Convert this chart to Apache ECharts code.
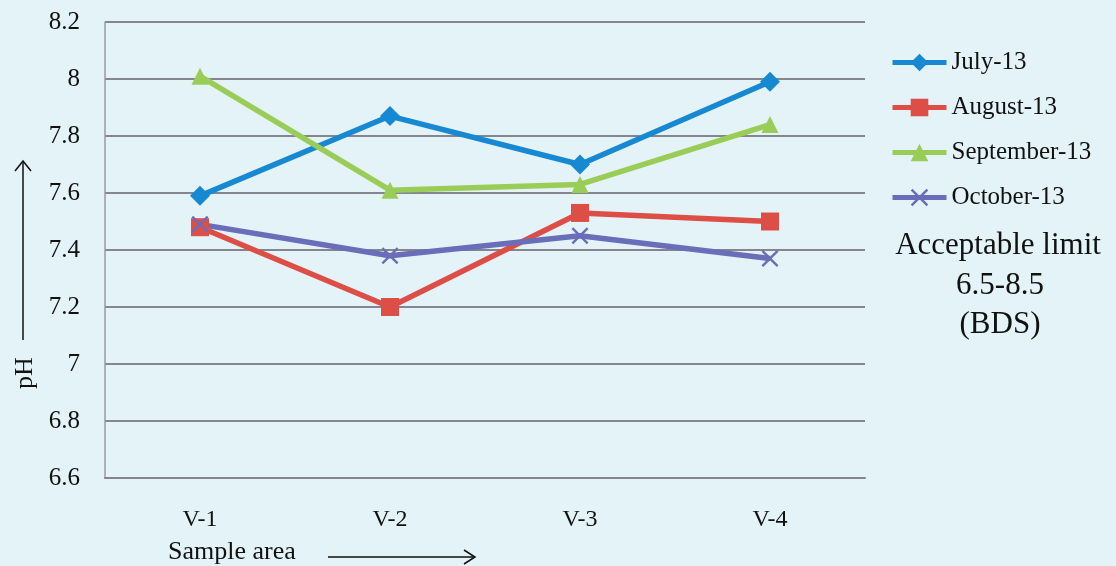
<!DOCTYPE html>
<html>
<head>
<meta charset="utf-8">
<title>pH by sample area</title>
<script src="https://cdn.jsdelivr.net/npm/echarts@6/dist/echarts.min.js"></script>
<style>
  html, body { margin: 0; padding: 0; background: #e3f3f8; }
  #chart { width: 1116px; height: 566px; }
</style>
</head>
<body>
<div id="chart"></div>
<script>
// Sampling sites along the x axis
const categories = ['V-1', 'V-2', 'V-3', 'V-4'];

// Monthly pH readings per site
const july13 = [7.59, 7.87, 7.70, 7.99];
const august13 = [7.48, 7.20, 7.53, 7.50];
const september13 = [8.01, 7.61, 7.63, 7.84];
const october13 = [7.49, 7.38, 7.45, 7.37];

const seriesNames = ['July-13', 'August-13', 'September-13', 'October-13'];

// pH axis range and step
const yMin = 6.6;
const yMax = 8.2;
const yStep = 0.2;

const serif = '"Liberation Serif", "Times New Roman", serif';
const crossPath = 'path://M1,0 L5,4 L9,0 L10,1 L6,5 L10,9 L9,10 L5,6 L1,10 L0,9 L4,5 L0,1 Z';
const colors = ['#1689d2', '#dc4e46', '#9acd58', '#6a6db8'];
const symbols = ['diamond', 'rect', 'triangle', crossPath];
const symbolSizes = [20, 18, 17, 17];

function lineSeries(i, data) {
  return {
    name: seriesNames[i],
    type: 'line',
    data: data,
    symbol: symbols[i],
    symbolSize: symbolSizes[i],
    lineStyle: { color: colors[i], width: 5.5 },
    itemStyle: { color: colors[i] },
    emphasis: { disabled: true },
    animation: false
  };
}

const chart = echarts.init(document.getElementById('chart'), null, { renderer: 'canvas' });

chart.setOption({
  backgroundColor: '#e3f3f8',
  animation: false,
  grid: { left: 105, right: 251, top: 22, bottom: 88 },
  legend: {
    orient: 'vertical',
    left: 890,
    top: 50,
    padding: 0,
    itemWidth: 54,
    itemHeight: 22,
    itemGap: 20,
    textStyle: { fontFamily: serif, fontSize: 25, color: '#111', lineHeight: 25 },
    lineStyle: { width: 5 },
    data: seriesNames.map(function (n, i) {
      return {
        name: n,
        itemStyle: { color: colors[i] },
        lineStyle: { color: colors[i], width: 5 }
      };
    })
  },
  xAxis: {
    type: 'category',
    data: categories,
    boundaryGap: true,
    axisLine: { show: true, lineStyle: { color: '#85858f', width: 2 } },
    axisTick: { show: false },
    axisLabel: { margin: 30, fontFamily: serif, fontSize: 24, color: '#111' },
    splitLine: { show: false }
  },
  yAxis: {
    type: 'value',
    min: yMin,
    max: yMax,
    interval: yStep,
    axisLine: { show: true, lineStyle: { color: '#9a9aa2', width: 1.5 } },
    axisTick: { show: false },
    axisLabel: { margin: 25, fontFamily: serif, fontSize: 25, color: '#111' },
    splitLine: { show: true, lineStyle: { color: '#85858f', width: 2 } }
  },
  series: [
    lineSeries(0, july13),
    lineSeries(1, august13),
    lineSeries(2, september13),
    lineSeries(3, october13)
  ],
  graphic: [
    // y-axis title with upward arrow
    {
      type: 'text',
      x: 25, y: 373,
      rotation: Math.PI / 2,
      style: {
        text: 'pH', font: '26px ' + serif, fill: '#111',
        align: 'center', verticalAlign: 'middle'
      }
    },
    {
      type: 'line',
      shape: { x1: 23, y1: 340, x2: 23, y2: 161 },
      style: { stroke: '#111', lineWidth: 1.5 }
    },
    {
      type: 'polyline',
      shape: { points: [[15, 171], [23, 161], [31, 171]] },
      style: { stroke: '#111', lineWidth: 1.5, fill: null }
    },
    // x-axis title with rightward arrow
    {
      type: 'text',
      left: 168, top: 539,
      style: { text: 'Sample area', font: '26px ' + serif, fill: '#111' }
    },
    {
      type: 'line',
      shape: { x1: 328, y1: 557, x2: 475, y2: 557 },
      style: { stroke: '#111', lineWidth: 1.5 }
    },
    {
      type: 'polyline',
      shape: { points: [[464, 550], [475, 557], [464, 564]] },
      style: { stroke: '#111', lineWidth: 1.5, fill: null }
    },
    // standard note
    {
      type: 'text',
      x: 998, y: 246,
      style: {
        text: 'Acceptable limit',
        font: '31px ' + serif,
        fill: '#111',
        align: 'center',
        verticalAlign: 'middle'
      }
    },
    {
      type: 'text',
      x: 1000, y: 286,
      style: {
        text: '6.5-8.5',
        font: '31px ' + serif,
        fill: '#111',
        align: 'center',
        verticalAlign: 'middle'
      }
    },
    {
      type: 'text',
      x: 1000, y: 325,
      style: {
        text: '(BDS)',
        font: '31px ' + serif,
        fill: '#111',
        align: 'center',
        verticalAlign: 'middle'
      }
    }
  ]
});
</script>
</body>
</html>
